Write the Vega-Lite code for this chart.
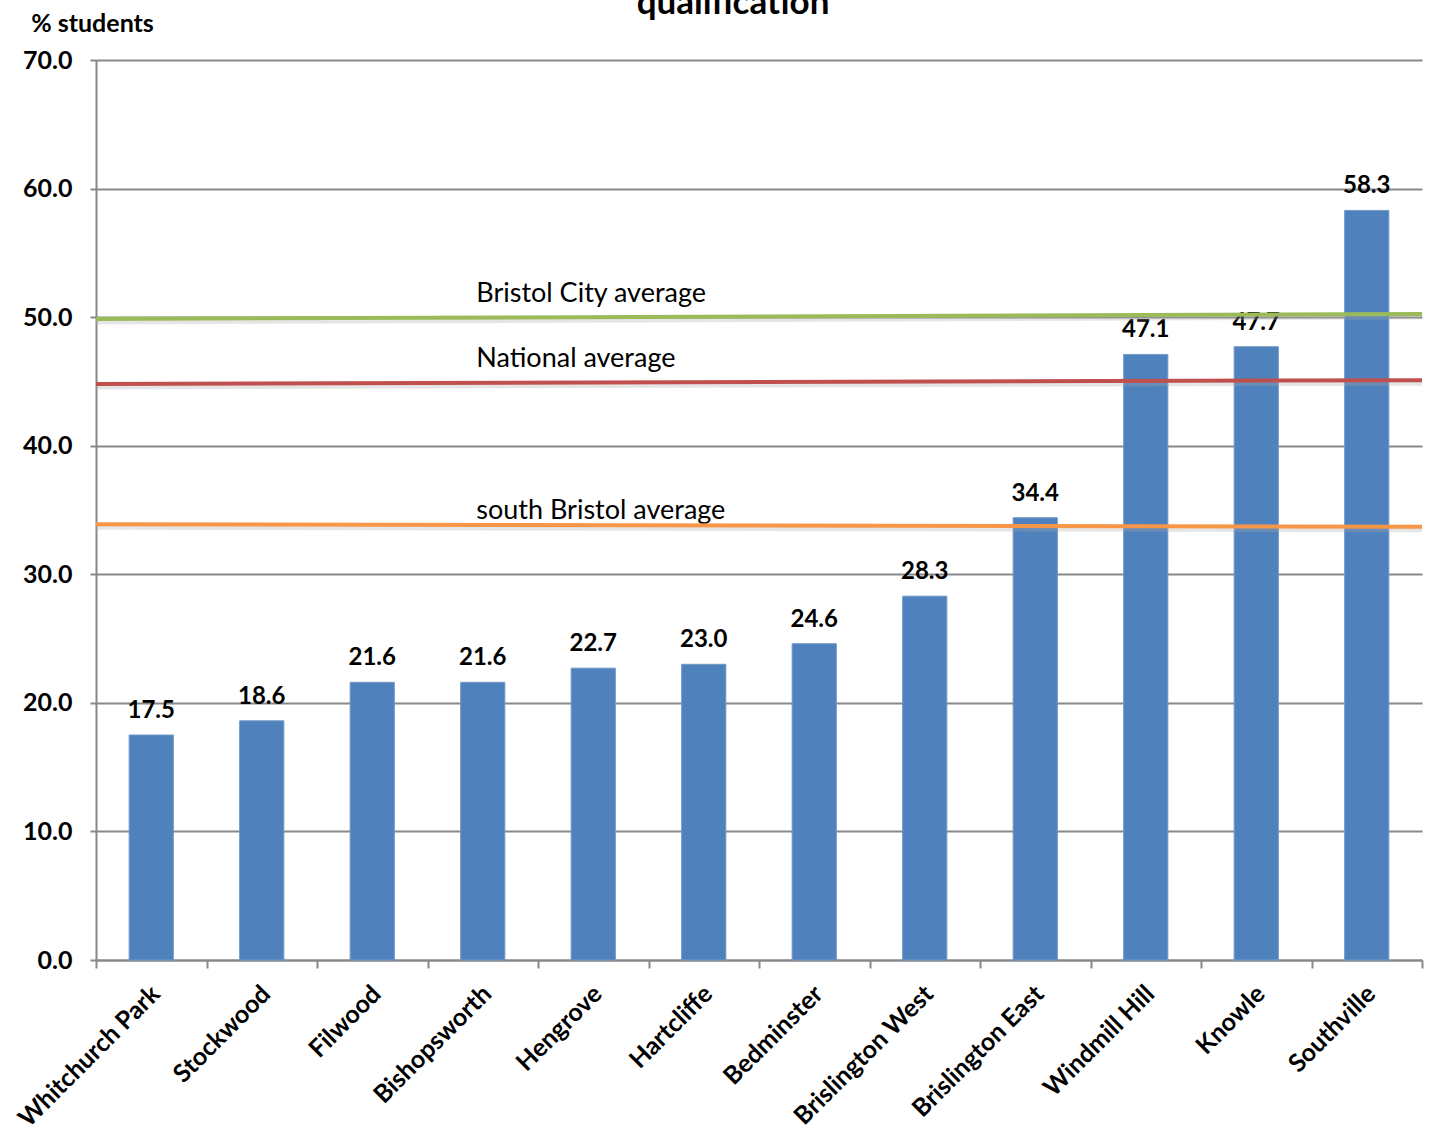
{
  "$schema": "https://vega.github.io/schema/vega-lite/v6.json",
  "width": 1326,
  "height": 900,
  "autosize": {"type": "none"},
  "padding": {"left": 96, "top": 60, "right": 24, "bottom": 166},
  "background": "#ffffff",
  "title": {
    "text": "qualification",
    "font": "Lato",
    "fontSize": 35,
    "fontWeight": "bold",
    "color": "#000000",
    "anchor": "middle",
    "dx": -26,
    "offset": -38,
    "baseline": "alphabetic"
  },
  "config": {
    "view": {"stroke": null},
    "font": "Lato",
    "text": {"font": "Lato"}
  },
  "datasets": {
    "wards": [
      {"ward": "Whitchurch Park", "pct": 17.5},
      {"ward": "Stockwood", "pct": 18.6},
      {"ward": "Filwood", "pct": 21.6},
      {"ward": "Bishopsworth", "pct": 21.6},
      {"ward": "Hengrove", "pct": 22.7},
      {"ward": "Hartcliffe", "pct": 23.0},
      {"ward": "Bedminster", "pct": 24.6},
      {"ward": "Brislington West", "pct": 28.3},
      {"ward": "Brislington East", "pct": 34.4},
      {"ward": "Windmill Hill", "pct": 47.1},
      {"ward": "Knowle", "pct": 47.7},
      {"ward": "Southville", "pct": 58.3}
    ],
    "averages": [
      {"name": "Bristol City average", "end": "left", "value": 49.86},
      {"name": "Bristol City average", "end": "right", "value": 50.24},
      {"name": "National average", "end": "left", "value": 44.8},
      {"name": "National average", "end": "right", "value": 45.1},
      {"name": "south Bristol average", "end": "left", "value": 33.9},
      {"name": "south Bristol average", "end": "right", "value": 33.7}
    ],
    "averageLabels": [
      {"name": "Bristol City average", "ward": "Hengrove", "value": 50.05},
      {"name": "National average", "ward": "Hengrove", "value": 44.93},
      {"name": "south Bristol average", "ward": "Hengrove", "value": 33.8}
    ]
  },
  "layer": [
    {
      "data": {"name": "wards"},
      "mark": {"type": "bar", "color": "#4F81BD", "stroke": "#7399C6", "strokeWidth": 1},
      "encoding": {
        "x": {
          "field": "ward",
          "type": "nominal",
          "sort": null,
          "scale": {
            "domain": ["Whitchurch Park", "Stockwood", "Filwood", "Bishopsworth", "Hengrove", "Hartcliffe", "Bedminster", "Brislington West", "Brislington East", "Windmill Hill", "Knowle", "Southville"],
            "paddingInner": 0.6,
            "paddingOuter": 0.3
          },
          "axis": {
            "orient": "bottom",
            "title": null,
            "ticks": false,
            "domain": false,
            "labelAngle": -45,
            "labelAlign": "right",
            "labelBaseline": "top",
            "labelPadding": 21,
            "labelOffset": -4,
            "labelLimit": 0,
            "labelFont": "Lato",
            "labelFontSize": 25,
            "labelFontWeight": "bold",
            "labelColor": "#000000"
          }
        },
        "y": {
          "field": "pct",
          "type": "quantitative",
          "scale": {"domain": [0, 70]},
          "axis": {
            "title": "% students",
            "titleAngle": 0,
            "titleX": -4,
            "titleY": -37,
            "titleAlign": "center",
            "titleBaseline": "middle",
            "titleFont": "Lato",
            "titleFontSize": 25,
            "titleFontWeight": "bold",
            "titleColor": "#000000",
            "values": [0, 10, 20, 30, 40, 50, 60, 70],
            "format": ".1f",
            "labelFont": "Lato",
            "labelFontSize": 25,
            "labelFontWeight": "bold",
            "labelColor": "#000000",
            "labelPadding": 18,
            "tickSize": 6,
            "tickWidth": 2,
            "tickColor": "#888888",
            "domainColor": "#888888",
            "domainWidth": 2,
            "grid": true,
            "gridColor": "#888888",
            "gridWidth": 2
          }
        }
      }
    },
    {
      "layer": [
        {
          "data": {"name": "wards"},
          "mark": {"type": "text", "font": "Lato", "fontSize": 24, "fontWeight": "bold", "color": "#000000", "baseline": "alphabetic", "dy": -17},
          "encoding": {
            "x": {
              "field": "ward",
              "type": "nominal",
              "sort": null,
              "scale": {
                "domain": ["Whitchurch Park", "Stockwood", "Filwood", "Bishopsworth", "Hengrove", "Hartcliffe", "Bedminster", "Brislington West", "Brislington East", "Windmill Hill", "Knowle", "Southville"],
                "paddingInner": 0,
                "paddingOuter": 0
              },
              "axis": {
                "orient": "bottom",
                "title": null,
                "labels": false,
                "tickBand": "extent",
                "tickSize": 8,
                "tickWidth": 2,
                "tickColor": "#888888",
                "domainColor": "#888888",
                "domainWidth": 2
              }
            },
            "y": {"field": "pct", "type": "quantitative"},
            "text": {"field": "pct", "type": "quantitative", "format": ".1f"}
          }
        },
        {
          "data": {"name": "averageLabels"},
          "transform": [{"filter": "datum.name !== 'south Bristol average'"}],
          "mark": {"type": "text", "font": "Lato", "fontSize": 27, "color": "#000000", "align": "left", "baseline": "alphabetic", "dx": -117, "dy": -15},
          "encoding": {
            "x": {"field": "ward", "type": "nominal", "sort": null},
            "y": {"field": "value", "type": "quantitative"},
            "text": {"field": "name", "type": "nominal"}
          }
        },
        {
          "data": {"name": "averageLabels"},
          "transform": [{"filter": "datum.name === 'south Bristol average'"}],
          "mark": {"type": "text", "font": "Lato", "fontSize": 27, "color": "#000000", "align": "left", "baseline": "alphabetic", "dx": -117, "dy": -6},
          "encoding": {
            "x": {"field": "ward", "type": "nominal", "sort": null},
            "y": {"field": "value", "type": "quantitative"},
            "text": {"field": "name", "type": "nominal"}
          }
        }
      ]
    },
    {
      "data": {"name": "averages"},
      "layer": [
        {
          "mark": {"type": "line", "stroke": "#aaaaaa", "strokeWidth": 5, "opacity": 0.3, "yOffset": 3, "clip": false},
          "encoding": {
            "x": {"field": "end", "type": "ordinal", "scale": {"type": "point", "domain": ["left", "right"], "padding": 0}, "axis": null},
            "y": {"field": "value", "type": "quantitative"},
            "detail": {"field": "name", "type": "nominal"}
          }
        },
        {
          "mark": {"type": "line", "strokeWidth": 4, "clip": false},
          "encoding": {
            "x": {"field": "end", "type": "ordinal", "scale": {"type": "point", "domain": ["left", "right"], "padding": 0}, "axis": null},
            "y": {"field": "value", "type": "quantitative"},
            "color": {
              "field": "name",
              "type": "nominal",
              "scale": {
                "domain": ["Bristol City average", "National average", "south Bristol average"],
                "range": ["#9BBB59", "#C0504D", "#F79646"]
              },
              "legend": null
            }
          }
        }
      ]
    }
  ],
  "resolve": {"scale": {"x": "independent"}, "axis": {"x": "independent"}}
}
